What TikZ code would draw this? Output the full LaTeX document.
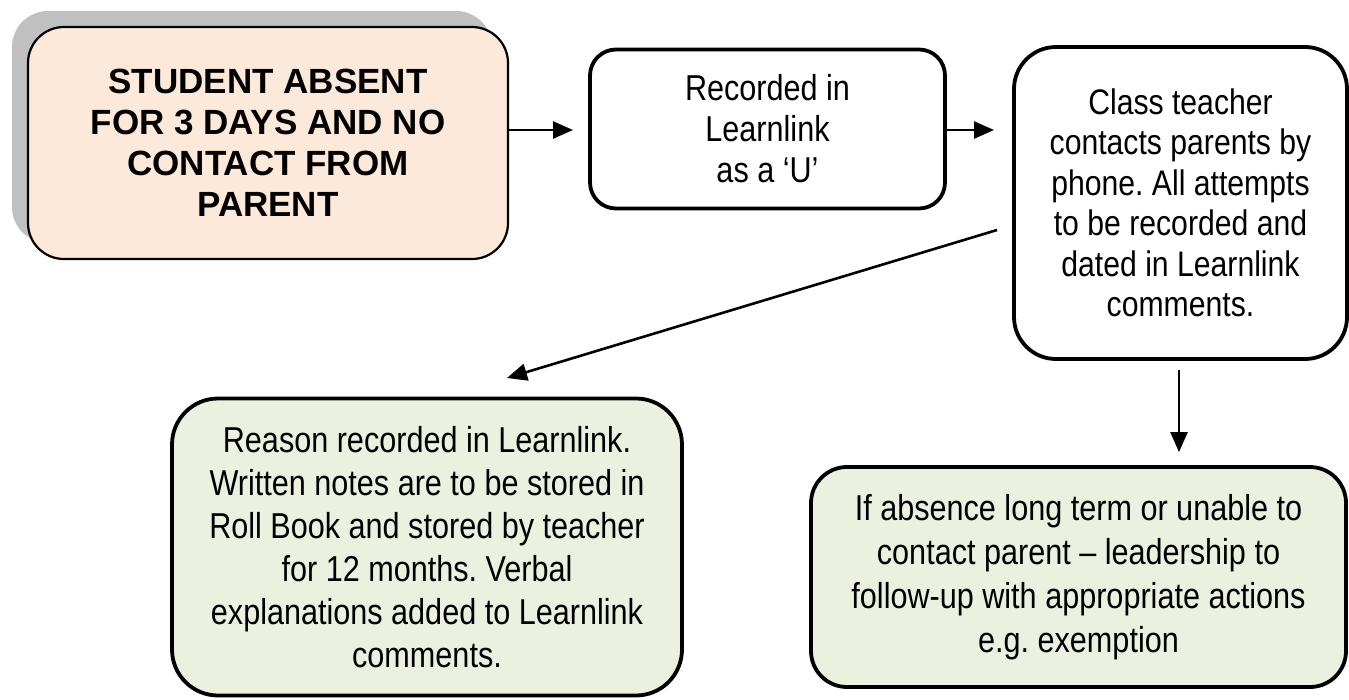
\documentclass[tikz,border=0pt]{standalone}
\usepackage{fontspec}
\setmainfont{Liberation Sans}
\newfontfamily\narrowfont[FakeStretch=0.85]{Liberation Sans}
\usetikzlibrary{arrows.meta,shadows}
\definecolor{peach}{HTML}{FCE9DA}
\definecolor{sage}{HTML}{EBF1DE}
\definecolor{shade}{HTML}{C0C0C0}
\frenchspacing
\begin{document}
\begin{tikzpicture}[x=1pt,y=-1pt,
  box/.style={draw=black, line width=3.8pt, inner sep=0pt, align=center,
    font=\narrowfont\fontsize{36}{41}\selectfont},
  arr/.style={line width=2.6pt, -{Triangle[length=20pt,width=17pt]}}
]
\useasboundingbox (0,0) rectangle (1349,699);

% Box 1 with shadow
\node[draw=black, line width=2.2pt, fill=peach, rounded corners=36pt,
      minimum width=480pt, minimum height=232pt, inner sep=0pt, align=center,
      font=\bfseries\fontsize{35}{41}\selectfont,
      drop shadow={shadow xshift=-16pt, shadow yshift=16pt, fill=shade, opacity=1}]
  (start) at (268,143) {STUDENT ABSENT\\FOR 3 DAYS AND NO\\CONTACT FROM\\PARENT};

\node[box, rounded corners=26pt, minimum width=355pt, minimum height=159pt]
  (rec) at (767.5,129) {Recorded in\\Learnlink\\as a ‘U’};

\node[box, rounded corners=42pt, minimum width=333pt, minimum height=312pt,
      font=\narrowfont\fontsize{35.5}{40.5}\selectfont]
  (call) at (1180.5,203) {Class teacher\\contacts parents by\\phone. All attempts\\to be recorded and\\dated in Learnlink\\comments.};

\node[box, fill=sage, rounded corners=46pt, minimum width=510pt, minimum height=297pt,
      font=\narrowfont\fontsize{36}{43}\selectfont]
  (reason) at (427,547) {Reason recorded in Learnlink.\\Written notes are to be stored in\\Roll Book and stored by teacher\\for 12 months. Verbal\\explanations added to Learnlink\\comments.};

\node[box, fill=sage, rounded corners=36pt, minimum width=535pt, minimum height=220pt,
      font=\narrowfont\fontsize{36}{44}\selectfont]
  (lead) at (1078.5,577) {If absence long term or unable to\\contact parent – leadership to\\follow-up with appropriate actions\\e.g. exemption};

% connectors
\coordinate (t1) at (573,130);
\coordinate (t2) at (994,130);
\coordinate (d1) at (997,230);
\coordinate (d2) at (507,378);
\draw[arr] (start.east |- t1) -- (t1);
\draw[arr] (rec.east |- t2) -- (t2);
\draw[arr] (d1) -- (d2);
\draw[arr, shorten <=9pt, shorten >=13pt] (call.south -| 1179,0) -- (lead.north -| 1179,0);
\end{tikzpicture}
\end{document}
